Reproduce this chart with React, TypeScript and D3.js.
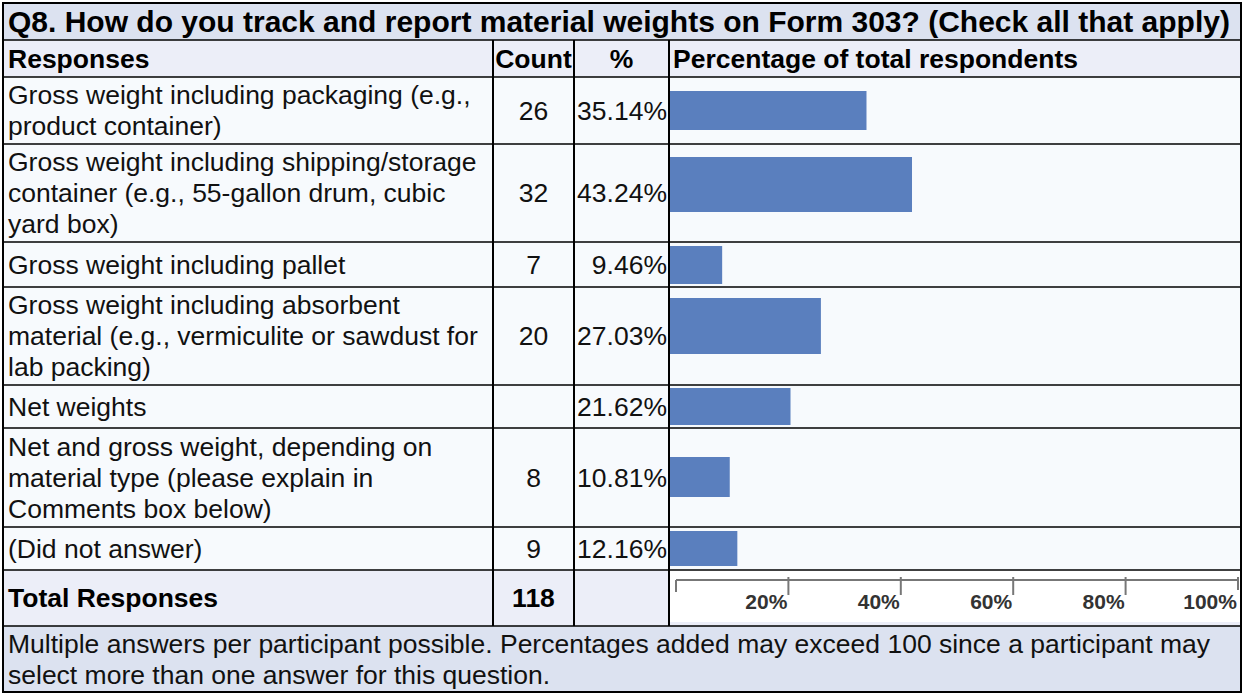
import React from 'react'
import * as d3 from 'd3'

// survey data
const title = 'Q8. How do you track and report material weights on Form 303? (Check all that apply)'
const responses: string[][] = [
    ['Gross weight including packaging (e.g.,', 'product container)'],
    ['Gross weight including shipping/storage', 'container (e.g., 55-gallon drum, cubic', 'yard box)'],
    ['Gross weight including pallet'],
    ['Gross weight including absorbent', 'material (e.g., vermiculite or sawdust for', 'lab packing)'],
    ['Net weights'],
    ['Net and gross weight, depending on', 'material type (please explain in', 'Comments box below)'],
    ['(Did not answer)'],
]
const counts: (number | null)[] = [26, 32, 7, 20, null, 8, 9]
const percents = [35.14, 43.24, 9.46, 27.03, 21.62, 10.81, 12.16]
const totalResponses = 118
const axisTicks = [20, 40, 60, 80, 100]
const footnote = [
    'Multiple answers per participant possible. Percentages added may exceed 100 since a participant may',
    'select more than one answer for this question.',
]

// layout
const W = 1243, H = 694
const left = 3, right = 1241
const colCount = 493, colPct = 574, colChart = 669
const titleTop = 3, headTop = 40, bodyTop = 77
const rowH = [67, 98, 45, 98, 43, 99, 43]
const barInset: [number, number][] = [[14, 14], [13, 30], [4, 3], [11, 31], [3, 3], [29, 30], [4, 4]]
const totalH = 56, footH = 66
const lineH = 31
const font = '"Liberation Sans", Arial, sans-serif'
const fs = 26.5

const App = () => {
    const rowTops: number[] = []
    let y = bodyTop
    rowH.forEach(h => { rowTops.push(y); y += h })
    const totalTop = y
    const footTop = totalTop + totalH
    const bottom = footTop + footH

    const x = d3.scaleLinear().domain([0, 100]).range([colChart, colChart + 562])
    const xAxis = d3.scaleLinear().domain([0, 100]).range([676, 1238])
    const axisY = totalTop + 10

    const lines = (arr: string[], cy: number) =>
        arr.map((t, i) => (
            <tspan key={i} x={left + 5} y={cy + (i - (arr.length - 1) / 2) * lineH + 9}>{t}</tspan>
        ))

    return (
        <svg width={W} height={H} style={{ position: 'absolute', left: 0, top: 0, background: '#fff' }}
            fontFamily={font} fontSize={fs}>
            {/* backgrounds */}
            <rect x={left} y={titleTop} width={right - left} height={headTop - titleTop} fill="#dce2f0" />
            <rect x={left} y={headTop} width={right - left} height={bodyTop - headTop} fill="#eceef8" />
            <rect x={left} y={bodyTop} width={right - left} height={totalTop - bodyTop} fill="#f7fafd" />
            <rect x={left} y={totalTop} width={colChart - left} height={totalH} fill="#eceef8" />
            <rect x={colChart} y={totalTop} width={right - colChart} height={totalH - 4} fill="#ffffff" />
            <rect x={colChart} y={totalTop + totalH - 4} width={right - colChart} height={4} fill="#eceef8" />
            <rect x={left} y={footTop} width={right - left} height={footH} fill="#dce2f0" />

            {/* bars */}
            {percents.map((p, i) => (
                <rect key={i} x={x(0)} y={rowTops[i] + barInset[i][0]}
                    width={x(p) - x(0)} height={rowH[i] - barInset[i][0] - barInset[i][1]}
                    fill="#5a7fbe" />
            ))}

            {/* grid lines */}
            <g stroke="#000">
                {[headTop, bodyTop, ...rowTops.slice(1), totalTop, footTop].map((yy, i) => (
                    <line key={i} x1={left} x2={right} y1={yy} y2={yy} strokeWidth={1.5} />
                ))}
                {[colCount, colPct, colChart].map((xx, i) => (
                    <line key={i} x1={xx} x2={xx} y1={headTop} y2={footTop} strokeWidth={2} />
                ))}
                <rect x={left} y={titleTop} width={right - left} height={bottom - titleTop}
                    fill="none" strokeWidth={2} />
            </g>

            {/* title + header */}
            <text x={left + 5} y={(titleTop + headTop) / 2 + 10} fontWeight="bold" fontSize={30}>{title}</text>
            <g fontWeight="bold">
                <text x={left + 5} y={(headTop + bodyTop) / 2 + 9}>Responses</text>
                <text x={(colCount + colPct) / 2} y={(headTop + bodyTop) / 2 + 9} textAnchor="middle">Count</text>
                <text x={(colPct + colChart) / 2} y={(headTop + bodyTop) / 2 + 9} textAnchor="middle">%</text>
                <text x={colChart + 4} y={(headTop + bodyTop) / 2 + 9}>Percentage of total respondents</text>
            </g>

            {/* body rows */}
            {responses.map((r, i) => {
                const cy = rowTops[i] + rowH[i] / 2
                return (
                    <g key={i} fill="#111">
                        <text>{lines(r, cy)}</text>
                        {counts[i] !== null &&
                            <text x={(colCount + colPct) / 2} y={cy + 9} textAnchor="middle">{counts[i]}</text>}
                        <text x={colChart - 2} y={cy + 9} textAnchor="end">{percents[i].toFixed(2)}%</text>
                    </g>
                )
            })}

            {/* total row */}
            <g fontWeight="bold">
                <text x={left + 5} y={totalTop + totalH / 2 + 9}>Total Responses</text>
                <text x={(colCount + colPct) / 2} y={totalTop + totalH / 2 + 9} textAnchor="middle">{totalResponses}</text>
            </g>

            {/* axis */}
            <g stroke="#777" strokeWidth={2}>
                <line x1={xAxis(0)} x2={xAxis(100)} y1={axisY} y2={axisY} />
                <line x1={xAxis(0)} x2={xAxis(0)} y1={axisY} y2={axisY + 12} />
                {axisTicks.map(t => (
                    <line key={t} x1={xAxis(t)} x2={xAxis(t)} y1={axisY - 3} y2={axisY + (t === 100 ? 10 : 15)} />
                ))}
            </g>
            <g fontSize={21} fontWeight="bold" fill="#333">
                {axisTicks.map(t => (
                    <text key={t} x={xAxis(t) - 1} y={axisY + 29} textAnchor="end">{t}%</text>
                ))}
            </g>

            {/* footnote */}
            <text fill="#111">
                {footnote.map((t, i) => (
                    <tspan key={i} x={left + 5} y={footTop + footH / 2 + (i - 0.5) * lineH + 9}>{t}</tspan>
                ))}
            </text>
        </svg>
    )
}

export default App
